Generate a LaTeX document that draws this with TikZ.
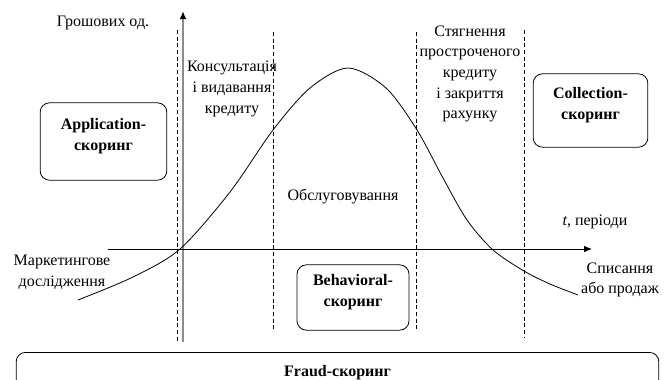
\documentclass[tikz,border=0pt]{standalone}
\usepackage{fontspec}
\setmainfont{Liberation Serif}
\usetikzlibrary{arrows.meta}
\definecolor{axis-gray}{HTML}{8C8C8C}

\begin{document}
\begin{tikzpicture}[x=0.75pt, y=-0.75pt,
      every node/.style={font=\fontsize{12}{15.5}\selectfont, align=center},
      scorebox/.style={draw, rounded corners=7pt, line width=0.6pt,
          font=\fontsize{12}{15.5}\selectfont\bfseries, text depth=11pt},
      phase/.style={dash pattern=on 3pt off 2pt, line width=0.5pt}]
    \clip (0,0) rectangle (670,379);
    % axes
    \draw[axis-gray, line width=1.3pt,
          -{Latex[black, length=6pt, width=5pt]}] (183,342) -- (183,11);
    \draw[line width=0.7pt, -{Latex[length=6pt, width=5pt]}] (108,249) -- (592,249);
    % phase borders
    \foreach \x/\a/\b in {177/30/342, 273/32/330, 416/32/330, 524/30/337}
      \draw[phase] (\x,\a) -- (\x,\b);
    % life cycle curve
    \draw[line width=0.6pt] plot[smooth] coordinates {(78,300) (133,277)
      (180,249) (230,192) (273,130) (310,88) (348,68) (386,88) (417,130)
      (443,178) (467,220) (493,250) (524,271) (550,284) (578,295)};
    \node (money) at (103,23) {Грошових од.};
    \node (issue) at (232,89) {Консультація\\і видавання\\кредиту};
    \node (collect) at (470,74) {Стягнення\\простроченого\\кредиту\\і закриття\\рахунку};
    \node (service) at (343,196) {Обслуговування};
    \node (time) at (595,222) {\textit{t}, періоди};
    \node (market) at (62,272) {Маркетингове\\дослідження};
    \node (writeoff) at (620,280) {Списання\\або продаж};
    \node[scorebox, minimum width=95pt, minimum height=58pt]
          (app) at (103.5,141.5) {Application-\\скоринг};
    \node[scorebox, minimum width=86pt, minimum height=55pt]
          (coll) at (590.5,110.5) {Collection-\\скоринг};
    \node[scorebox, minimum width=84pt, minimum height=49pt]
          (behav) at (353,297.5) {Behavioral-\\скоринг};
    \node[scorebox, anchor=north, minimum width=482pt, inner ysep=0pt,
          text height=18pt, text depth=20pt] (fraud) at (337.5,352) {Fraud-скоринг};
  \end{tikzpicture}
\end{document}
